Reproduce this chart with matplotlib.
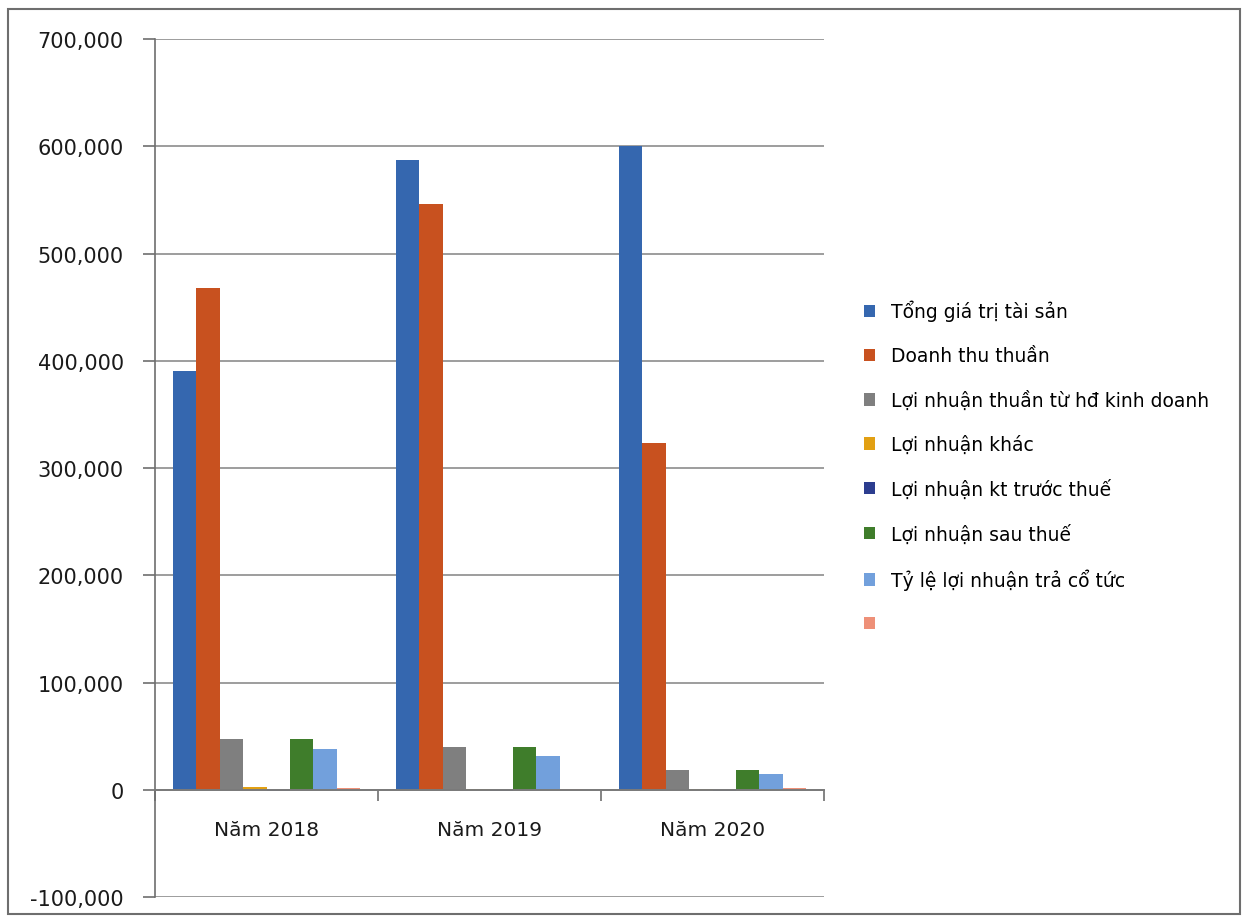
import matplotlib.pyplot as plt
import numpy as np
from matplotlib.patches import Rectangle
from matplotlib.ticker import FuncFormatter, FixedLocator

plt.rcParams['font.family'] = ['DejaVu Sans']

categories = ["Năm 2018", "Năm 2019", "Năm 2020"]
series_names = [
    "Tổng giá trị tài sản",
    "Doanh thu thuần",
    "Lợi nhuận thuần từ hđ kinh doanh",
    "Lợi nhuận khác",
    "Lợi nhuận kt trước thuế",
    "Lợi nhuận sau thuế",
    "Tỷ lệ lợi nhuận trả cổ tức",
    "",
]
tong_tai_san = [390000, 587000, 600000]
doanh_thu = [468000, 546000, 323000]
ln_thuan_hdkd = [47500, 40000, 18500]
ln_khac = [2500, 500, 500]
ln_kt_truoc_thue = [-1000, -1500, -1500]
ln_sau_thue = [47500, 40000, 18500]
ty_le_co_tuc = [38000, 31500, 15000]
khong_ten = [1800, 400, 1800]

series = [tong_tai_san, doanh_thu, ln_thuan_hdkd, ln_khac,
          ln_kt_truoc_thue, ln_sau_thue, ty_le_co_tuc, khong_ten]
colors = ["#3567AF", "#C8511F", "#7F7F7F", "#E2A013",
          "#2C3D8F", "#3F7D2B", "#72A0DC", "#EE9078"]

fig = plt.figure(figsize=(12.48, 9.2), dpi=100)
ax = fig.add_axes([0.1242, 0.0239, 0.5361, 0.9326])

x = np.arange(1, len(categories) + 1)
n = len(series)
w = 0.105
handles = []
for i, (vals, c) in enumerate(zip(series, colors)):
    off = (i - (n - 1) / 2) * w
    b = ax.bar(x + off, vals, width=w, color=c, label=series_names[i], zorder=3)
    handles.append(b)

ax.set_xlim(0.5, len(categories) + 0.5)
ax.set_ylim(-100000, 700000)
ax.set_yticks(np.arange(-100000, 700001, 100000))
ax.yaxis.set_major_formatter(FuncFormatter(lambda v, p: f"{int(v):,}"))
ax.grid(axis='y', color='#8C8C8C', linewidth=1.2, zorder=0)

for s in ['top', 'right']:
    ax.spines[s].set_visible(False)
ax.spines['left'].set_color('#6E6E6E')
ax.spines['left'].set_linewidth(1.2)
ax.spines['bottom'].set_position(('data', 0))
ax.spines['bottom'].set_color('#7A7A7A')
ax.spines['bottom'].set_linewidth(1.4)
ax.spines['bottom'].set_zorder(4)

ax.set_xticks(x)
ax.set_xticklabels(categories)
ax.xaxis.set_minor_locator(FixedLocator(np.arange(0.5, len(categories) + 1, 1)))
ax.tick_params(axis='x', which='major', length=0, pad=22, labelsize=14.5, colors='#1A1A1A')
ax.tick_params(axis='x', which='minor', length=8, width=1.2, color='#6E6E6E', direction='out')
ax.tick_params(axis='y', length=8.5, width=1.2, color='#6E6E6E', pad=14, labelsize=15, labelcolor='#1A1A1A')

leg = fig.legend(handles=handles, labels=series_names, loc='upper left',
                 bbox_to_anchor=(0.686, 0.681), frameon=False, fontsize=13.5,
                 handlelength=0.62, handleheight=0.62, handletextpad=0.85,
                 labelspacing=1.32, borderaxespad=0)

fig.patches.append(Rectangle((0.0065, 0.005), 0.987, 0.984, transform=fig.transFigure,
                             fill=False, edgecolor='#6E6E6E', linewidth=1.5))

fig.savefig("out.png", dpi=100)
